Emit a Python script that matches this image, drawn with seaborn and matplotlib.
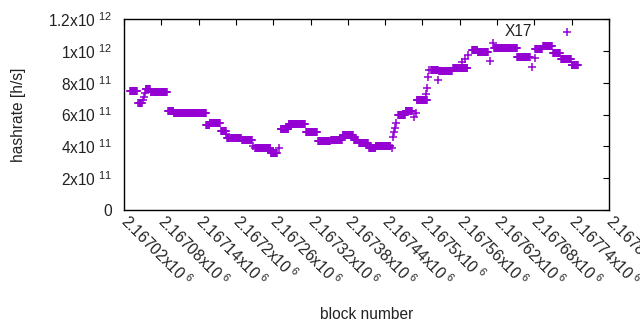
import numpy as np
import pandas as pd
import matplotlib
matplotlib.use("Agg")
import matplotlib.pyplot as plt
import matplotlib.transforms as mtransforms
import seaborn as sns

# --- data (block number, hashrate in h/s) ---
# stretches of consecutive blocks that share one hashrate value
run_start = [2167030, 2167043, 2167055, 2167063, 2167091, 2167100, 2167152, 2167158,
             2167176, 2167186, 2167192, 2167210, 2167231, 2167256, 2167272, 2167285,
             2167313, 2167332, 2167353, 2167372, 2167390, 2167398, 2167414, 2167425,
             2167461, 2167473, 2167491, 2167514, 2167527, 2167549, 2167559, 2167580,
             2167589, 2167615, 2167652, 2167681, 2167694, 2167710, 2167723, 2167740]
run_end = [2167041, 2167049, 2167062, 2167089, 2167099, 2167152, 2167157, 2167174,
           2167184, 2167190, 2167208, 2167226, 2167255, 2167266, 2167284, 2167311,
           2167330, 2167351, 2167370, 2167388, 2167396, 2167412, 2167424, 2167448,
           2167472, 2167483, 2167507, 2167525, 2167547, 2167557, 2167572, 2167588,
           2167605, 2167652, 2167673, 2167692, 2167708, 2167721, 2167739, 2167750]
run_value = [7.47e11, 6.72e11, 7.60e11, 7.41e11, 6.22e11, 6.09e11, 5.34e11, 5.46e11,
             4.96e11, 4.52e11, 4.55e11, 4.40e11, 3.89e11, 3.58e11, 5.09e11, 5.40e11,
             4.90e11, 4.33e11, 4.40e11, 4.71e11, 4.40e11, 4.21e11, 3.89e11, 4.02e11,
             5.97e11, 6.22e11, 6.91e11, 8.79e11, 8.75e11, 8.92e11, 8.92e11, 1.005e12,
             9.92e11, 1.018e12, 9.61e11, 1.011e12, 1.030e12, 9.86e11, 9.48e11, 9.11e11]

# single blocks that sit apart from the stretches
iso_block = [2167051, 2167052, 2167054, 2167184, 2167227, 2167269, 2167451, 2167453,
             2167454, 2167456, 2167457, 2167486, 2167490, 2167506, 2167507, 2167509,
             2167510, 2167525, 2167563, 2167568, 2167573, 2167608, 2167613, 2167676,
             2167681, 2167732]
iso_value = [6.90e11, 7.10e11, 7.35e11, 4.77e11, 4.02e11, 3.89e11, 3.89e11, 4.59e11,
             4.90e11, 5.15e11, 5.46e11, 5.84e11, 6.09e11, 7.29e11, 7.66e11, 8.35e11,
             8.79e11, 8.17e11, 9.30e11, 9.48e11, 9.74e11, 9.36e11, 1.049e12, 8.98e11,
             9.55e11, 1.118e12]

x_ticks = [2167020, 2167080, 2167140, 2167200, 2167260, 2167320, 2167380,
           2167440, 2167500, 2167560, 2167620, 2167680, 2167740, 2167800]
x_tick_labels = ["2.16702", "2.16708", "2.16714", "2.1672", "2.16726", "2.16732", "2.16738",
                 "2.16744", "2.1675", "2.16756", "2.16762", "2.16768", "2.16774", "2.1678"]
y_ticks = [0, 2e11, 4e11, 6e11, 8e11, 1e12, 1.2e12]
y_tick_labels = ["0", "2x10$^{\\ 11}$", "4x10$^{\\ 11}$", "6x10$^{\\ 11}$", "8x10$^{\\ 11}$",
                 "1x10$^{\\ 12}$", "1.2x10$^{\\ 12}$"]

blocks, rates = [], []
for s, e, v in zip(run_start, run_end, run_value):
    for b in range(s, e + 1):
        blocks.append(b)
        rates.append(v)
blocks += iso_block
rates += iso_value
df = pd.DataFrame({"block": blocks, "hashrate": rates})

sns.set_style("white")
plt.rcParams.update({
    "font.family": ["Liberation Sans", "DejaVu Sans"],
    "mathtext.default": "regular",
    "font.size": 11.2,
})

fig = plt.figure(figsize=(6.4, 3.3), dpi=100)
ax = fig.add_axes([124 / 640, 1 - 210 / 330, 485 / 640, 191 / 330])

sns.scatterplot(data=df, x="block", y="hashrate", ax=ax, marker="+", s=36,
                color="#9400d3", linewidth=1.1, legend=False)

ax.set_xlim(2167020, 2167800)
ax.set_ylim(0, 1.2e12)
ax.set_xticks(x_ticks)
ax.set_xticklabels([l + "x10$^{\\ 6}$" for l in x_tick_labels], rotation=-45,
                   ha="left", va="center", rotation_mode="anchor")
shift = mtransforms.ScaledTranslation(4 / 100, -2 / 100, fig.dpi_scale_trans)
for lab in ax.get_xticklabels():
    lab.set_transform(lab.get_transform() + shift)
ax.set_yticks(y_ticks)
ax.set_yticklabels(y_tick_labels)
ax.tick_params(direction="in", length=4, width=0.8, top=True, right=True,
               labeltop=False, labelright=False, colors="black", labelcolor="#222222")
ax.tick_params(axis="x", pad=6)
ax.tick_params(axis="y", pad=9)
for sp in ax.spines.values():
    sp.set_visible(True)
    sp.set_color("black")
    sp.set_linewidth(1.0)

ax.text(2167655, 1.124e12, "X17", ha="center", va="center", color="#222222")
ax.set_xlabel("block number", color="#222222")
ax.set_ylabel("hashrate [h/s]", color="#222222")
ax.xaxis.set_label_coords(0.5, -97 / 191)
ax.yaxis.set_label_coords(-98 / 485, 0.5)

fig.savefig("out.png", dpi=100)
